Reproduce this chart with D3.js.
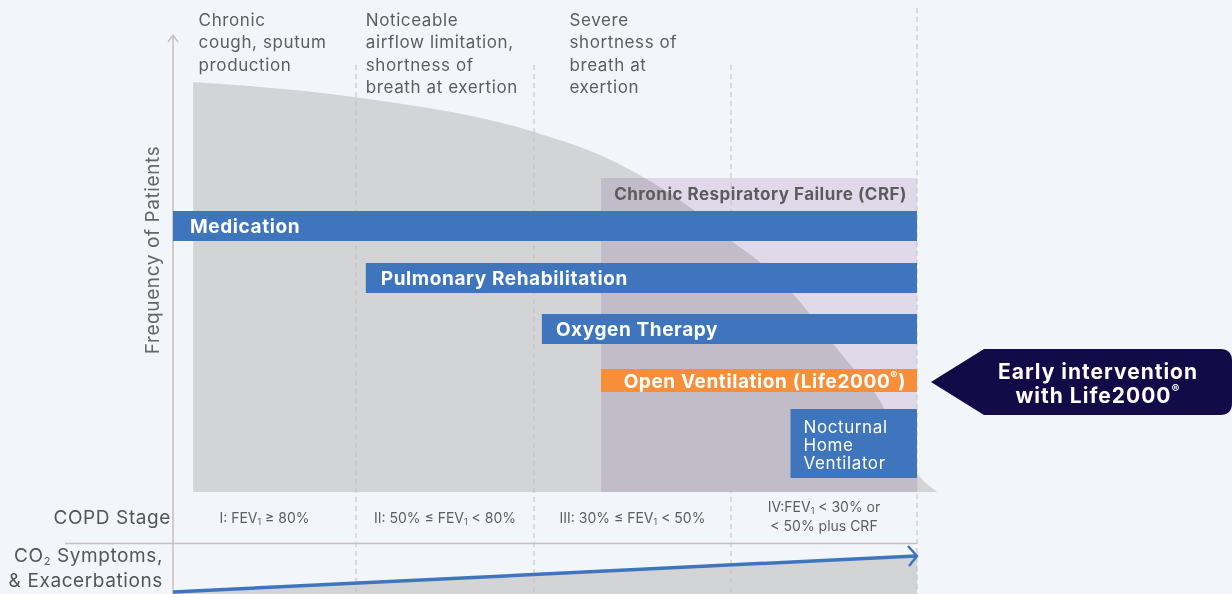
<!DOCTYPE html>
<html>
<head>
<meta charset="utf-8">
<script src="https://cdn.jsdelivr.net/npm/d3@7"></script>
<style>
  body { margin: 0; background: #f2f5fa; }
  svg { display: block; font-family: Inter, "Noto Sans", sans-serif; letter-spacing: 0.6px; }
</style>
</head>
<body>
<div id="chart"></div>
<script>
// stages along x, in "stage units" 0..4
var stageLabels = [
    ["I: FEV_1 ≥ 80%"],
    ["II: 50% ≤ FEV_1 < 80%"],
    ["III: 30% ≤ FEV_1 < 50%"],
    ["IV:FEV_1 < 30% or", "< 50% plus CRF"]
];
var symptomTexts = [
    ["Chronic", "cough, sputum", "production"],
    ["Noticeable", "airflow limitation,", "shortness of", "breath at exertion"],
    ["Severe", "shortness of", "breath at", "exertion"]
];
var symptomAt = [0.14, 1.055, 2.18];

// frequency of patients curve (0-100)
var curveStage = [0.11, 1.0, 2.0, 2.39, 2.81, 3.01, 3.16, 3.33, 3.55, 3.66, 3.77, 4.02, 4.11];
var curveFreq  = [100, 96.3, 87.8, 81, 68.8, 61, 55.9, 48.5, 36.1, 30, 24.4, 3.4, 0];

var treatments = ["Medication", "Pulmonary Rehabilitation", "Oxygen Therapy", "Open Ventilation (Life2000®)", "Nocturnal Home Ventilator"];
var treatStart = [0, 1.055, 2.04, 2.34, 3.32];
var crfStart = 2.34;

// CO2 symptoms & exacerbations, rising trend
var symptomStage = [0, 4];
var symptomLevel = [0, 1];

var width = 1232, height = 594;
var svg = d3.select("#chart").append("svg")
    .attr("width", width).attr("height", height);

var x = d3.scaleLinear().domain([0, 1, 2, 3, 4]).range([173, 356, 534, 731, 917]);
var yF = d3.scaleLinear().domain([0, 100]).range([492, 82]);
var row = d3.scaleLinear().domain([0, 1, 2, 3, 4]).range([211, 263, 314, 369, 409]);
var rowH = [30, 30, 30, 23, 69];
var yS = d3.scaleLinear().domain([0, 1]).range([592, 556]);

var grid = "#c9beb9", grey = "#d3d4d6", blue = "#3e75bc";

// frequency area
var freqData = curveStage.map((s, i) => ({stage: s, freq: curveFreq[i]}));
var area = d3.area()
    .x(d => x(d.stage)).y0(yF(0)).y1(d => yF(d.freq))
    .curve(d3.curveMonotoneX);
svg.append("path").datum(freqData).attr("d", area).attr("fill", grey);

// CRF region, multiplied over the area
svg.append("rect")
    .attr("x", x(crfStart)).attr("y", 178)
    .attr("width", x(4) - x(crfStart)).attr("height", yF(0) - 178)
    .attr("fill", "#ebe2ef").style("mix-blend-mode", "multiply");
svg.append("text")
    .attr("x", x(4) - 10).attr("y", 195)
    .attr("text-anchor", "end").attr("dominant-baseline", "middle")
    .attr("font-size", 17).attr("font-weight", 700).attr("fill", "#5b5a5c")
    .attr("letter-spacing", 0.5)
    .text("Chronic Respiratory Failure (CRF)");

// symptoms trend area
var symData = symptomStage.map((s, i) => ({stage: s, level: symptomLevel[i]}));
svg.append("path").datum(symData)
    .attr("d", d3.area().x(d => x(d.stage)).y0(height + 5).y1(d => yS(d.level)))
    .attr("fill", grey);

// dashed stage dividers
[1, 2, 3].forEach(s => {
    svg.append("line").attr("x1", x(s)).attr("x2", x(s)).attr("y1", 65).attr("y2", height)
        .attr("stroke", grid).attr("stroke-dasharray", "5,4");
});
svg.append("line").attr("x1", x(4)).attr("x2", x(4)).attr("y1", 8).attr("y2", height)
    .attr("stroke", grid).attr("stroke-dasharray", "5,4");

// y axis with arrow
svg.append("line").attr("x1", x(0)).attr("x2", x(0)).attr("y1", 36).attr("y2", height)
    .attr("stroke", grid).attr("stroke-width", 1.5);
svg.append("path").attr("d", "M" + (x(0) - 5) + ",42L" + x(0) + ",35L" + (x(0) + 5) + ",42")
    .attr("fill", "none").attr("stroke", grid).attr("stroke-width", 1.3);
svg.append("text")
    .attr("transform", "translate(159,250) rotate(-90)")
    .attr("text-anchor", "middle").attr("font-size", 19).attr("fill", "#666")
    .text("Frequency of Patients");

// horizontal separator
svg.append("line").attr("x1", 65).attr("x2", x(4)).attr("y1", 543.5).attr("y2", 543.5)
    .attr("stroke", grid).attr("stroke-width", 1.5);

// treatment bars
treatments.forEach((t, i) => {
    var fill = i == 3 ? "#f68e3a" : blue;
    svg.append("rect")
        .attr("x", x(treatStart[i])).attr("y", row(i))
        .attr("width", x(4) - x(treatStart[i])).attr("height", rowH[i])
        .attr("fill", fill);
});
var barText = (i) => svg.append("text")
    .attr("y", row(i) + rowH[i] / 2 + 2).attr("dominant-baseline", "middle")
    .attr("fill", "#fff").attr("font-weight", 700).attr("font-size", 19);
barText(0).attr("x", x(treatStart[0]) + 17).text(treatments[0]);
barText(1).attr("x", x(treatStart[1]) + 15).text(treatments[1]);
barText(2).attr("x", x(treatStart[2]) + 14).text(treatments[2]);
var ov = barText(3).attr("x", x(4) - 11).attr("text-anchor", "end");
ov.append("tspan").text("Open Ventilation (Life2000");
ov.append("tspan").attr("font-size", 11).attr("dy", -7).text("®");
ov.append("tspan").attr("dy", 7).text(")");
treatments[4].split(" ").forEach((w, j) => {
    svg.append("text")
        .attr("x", x(treatStart[4]) + 13).attr("y", row(4) + 19 + j * 18)
        .attr("dominant-baseline", "middle")
        .attr("fill", "#fff").attr("font-size", 17).text(w);
});

// callout arrow
var cx0 = 931, cy0 = 349, cy1 = 415, r = 12;
svg.append("path")
    .attr("d", "M" + cx0 + "," + ((cy0 + cy1) / 2) + "L" + 984 + "," + cy0 +
        "L" + (width - r) + "," + cy0 + "Q" + width + "," + cy0 + " " + width + "," + (cy0 + r) +
        "L" + width + "," + (cy1 - r) + "Q" + width + "," + cy1 + " " + (width - r) + "," + cy1 +
        "L984," + cy1 + "Z")
    .attr("fill", "#130a48");
svg.append("text").attr("x", 1098).attr("y", 373).attr("text-anchor", "middle")
    .attr("dominant-baseline", "middle").attr("fill", "#fff").attr("font-weight", 700)
    .attr("font-size", 21).attr("letter-spacing", 1).text("Early intervention");
var c2 = svg.append("text").attr("x", 1098).attr("y", 397).attr("text-anchor", "middle")
    .attr("dominant-baseline", "middle").attr("fill", "#fff").attr("font-weight", 700)
    .attr("font-size", 21).attr("letter-spacing", 1);
c2.append("tspan").text("with Life2000");
c2.append("tspan").attr("font-size", 12).attr("dy", -7).text("®");

// symptom texts at top
symptomTexts.forEach((lines, i) => {
    lines.forEach((l, j) => {
        svg.append("text")
            .attr("x", x(symptomAt[i])).attr("y", 21 + j * 22.6)
            .attr("dominant-baseline", "middle")
            .attr("font-size", 17).attr("fill", "#5d5d5f").text(l);
    });
});

// stage labels
function subText(sel, str) {
    var parts = str.split("_1");
    sel.append("tspan").text(parts[0]);
    if (parts.length > 1) {
        sel.append("tspan").attr("font-size", 9).attr("dy", 4).text("1");
        sel.append("tspan").attr("dy", -4).text(parts[1]);
    }
}
stageLabels.forEach((lines, i) => {
    var top = lines.length == 1 ? 519 : 508;
    lines.forEach((l, j) => {
        var t = svg.append("text")
            .attr("x", (x(i) + x(i + 1)) / 2).attr("y", top + j * 19)
            .attr("text-anchor", "middle").attr("dominant-baseline", "middle")
            .attr("font-size", 14).attr("letter-spacing", 0).attr("fill", "#5d5d5f");
        subText(t, l);
    });
});

svg.append("text").attr("x", 171).attr("y", 519).attr("text-anchor", "end")
    .attr("dominant-baseline", "middle").attr("font-size", 19).attr("fill", "#555")
    .text("COPD Stage");
var co = svg.append("text").attr("x", 163).attr("y", 557).attr("text-anchor", "end")
    .attr("dominant-baseline", "middle").attr("font-size", 19).attr("fill", "#555");
co.append("tspan").text("CO");
co.append("tspan").attr("font-size", 11).attr("dy", 5).text("2");
co.append("tspan").attr("dy", -5).text(" Symptoms,");
svg.append("text").attr("x", 163).attr("y", 582).attr("text-anchor", "end")
    .attr("dominant-baseline", "middle").attr("font-size", 19).attr("fill", "#555")
    .text("& Exacerbations");

// symptoms trend arrow
svg.append("line")
    .attr("x1", x(symptomStage[0])).attr("y1", yS(symptomLevel[0]))
    .attr("x2", x(symptomStage[1]) - 1).attr("y2", yS(symptomLevel[1]))
    .attr("stroke", blue).attr("stroke-width", 3.5);
var ex = x(symptomStage[1]), ey = yS(symptomLevel[1]);
svg.append("path")
    .attr("d", "M" + (ex - 9) + "," + (ey - 10) + "L" + ex + "," + ey + "L" + (ex - 8) + "," + (ey + 10))
    .attr("fill", "none").attr("stroke", blue).attr("stroke-width", 2.5);
</script>
</body>
</html>
